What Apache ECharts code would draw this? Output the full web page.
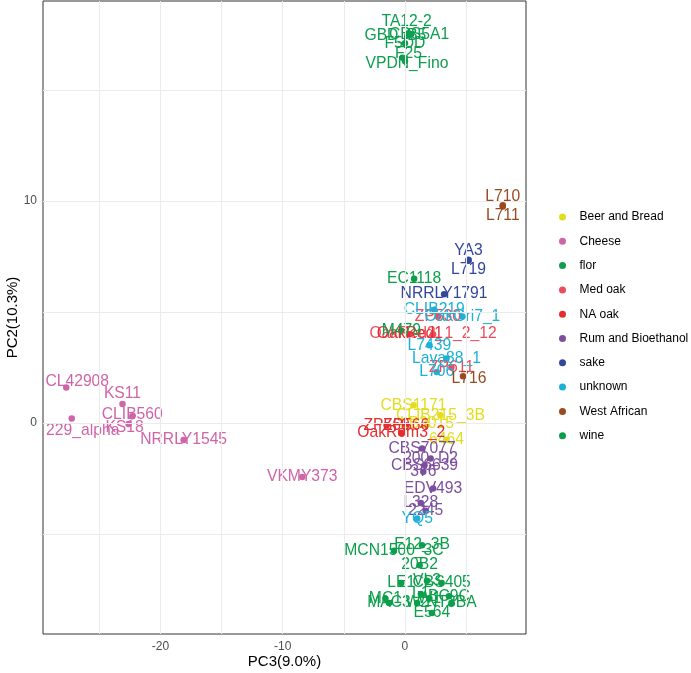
<!DOCTYPE html>
<html>
<head>
<meta charset="utf-8">
<script src="https://cdn.jsdelivr.net/npm/echarts@6/dist/echarts.min.js"></script>
<style>
  html, body { margin: 0; padding: 0; background: #fff; }
  #chart { width: 691px; height: 673px; }
</style>
</head>
<body>
<div id="chart"></div>
<script>
// PCA: PC3 (x) vs PC2 (y), one row per strain: [name, PC3, PC2]
const beerAndBread = [
  ["CBS1171", 0.7, 0.8],
  ["CLIB215_3B", 2.9, 0.35],
  ["LB2015", 1.8, -0.05],
  ["6464", 3.4, -0.75],
];
const cheese = [
  ["CL42908", -27.7, 1.6],
  ["229_alpha", -27.25, 0.2],
  ["KS11", -23.1, 0.85],
  ["CLIB560", -22.3, 0.3],
  ["KS18", -22.6, -0.05],
  ["NRRLY1545", -18.1, -0.77],
  ["VKMY373", -8.4, -2.43],
];
const flor = [
  ["TA12-2", 0.3, 17.55],
  ["GBD_B5", 0.2, 17.45],
  ["CBS5A1", 0.5, 17.5],
  ["F5DD", 0.0, 17.1],
  ["F25", -0.2, 16.45],
  ["VPDN_Fino", 0.0, 16.3],
];
const medOak = [
  ["ZP530", 2.7, 4.8],
  ["OakRed2_1_2_12", 2.3, 4.0],
  ["ZP611", 3.8, 2.5],
];
const naOak = [
  ["OakRed1", 0.4, 4.0],
  ["ZP560", -1.5, -0.1],
  ["ZP566", 0.1, -0.1],
  ["OakRom3_2", -0.3, -0.45],
];
const rumBioethanol = [
  ["CBS7077", 1.4, -1.15],
  ["200_D2", 2.1, -1.6],
  ["CBS6639", 1.6, -1.9],
  ["376", 1.5, -2.2],
  ["EDV493", 2.3, -2.95],
  ["L328", 1.3, -3.6],
  ["2245", 1.7, -3.95],
];
const sake = [
  ["NRRLY1791", 3.2, 5.8],
  ["YA3", 5.2, 7.35],
  ["L719", 5.2, 7.3],
];
const unknown = [
  ["CLIB219", 2.4, 5.1],
  ["OakGri7_1", 4.7, 4.8],
  ["L7439", 2.0, 3.5],
  ["Lava88_1", 3.4, 2.9],
  ["L706", 2.6, 2.3],
  ["YQ5", 1.0, -4.3],
];
const westAfrican = [
  ["L710", 8.0, 9.8],
  ["L711", 8.0, 9.75],
  ["L716", 4.75, 2.1],
];
const wine = [
  ["EC1118", 0.75, 6.5],
  ["M479", -0.3, 4.15],
  ["E12_3B", 1.4, -5.5],
  ["MCN1500_3C", -0.9, -5.75],
  ["20B2", 1.2, -6.4],
  ["LE1", -0.3, -7.2],
  ["VL3", 1.8, -7.1],
  ["CBS405", 3.0, -7.2],
  ["MC1", -1.6, -7.9],
  ["MAC3", -1.3, -8.1],
  ["L1", 1.3, -7.7],
  ["BC9C", 3.6, -7.8],
  ["NT3BA", 3.8, -8.1],
  ["E564", 2.2, -8.55],
  ["W1", 2.0, -7.9],
  ["W2", 1.0, -8.1],
];

const GROUP_NAMES = ["Beer and Bread", "Cheese", "flor", "Med oak", "NA oak",
  "Rum and Bioethanol", "sake", "unknown", "West African", "wine"];
const GROUP_ROWS = [beerAndBread, cheese, flor, medOak, naOak,
  rumBioethanol, sake, unknown, westAfrican, wine];

const X_LABELS = [-20, -10, 0];
const Y_LABELS = [0, 10];
const X_GRID = [-25, -20, -15, -10, -5, 0, 5];
const Y_GRID = [-5, 0, 5, 10, 15];
const X_RANGE = [-29.6, 9.9];
const Y_RANGE = [-9.5, 19.0];

const COLOR = {
  "Beer and Bread": "#e2de1f",
  "Cheese": "#cf64a9",
  "flor": "#0e9e50",
  "Med oak": "#ec4c5c",
  "NA oak": "#e52d30",
  "Rum and Bioethanol": "#7c4f9e",
  "sake": "#33479a",
  "unknown": "#1eb1d6",
  "West African": "#9b4a1f",
  "wine": "#0c9f4b",
};

// label nudges (px) where ggplot pushed overlapping labels apart
const NUDGE = {
  "CL42908": [11, -6], "229_alpha": [11, 12], "KS11": [0, -10], "CLIB560": [0, -2],
  "KS18": [-4, 4], "TA12-2": [-2, -12], "GBD_B5": [-12, 0], "CBS5A1": [8, 0],
  "F25": [6, -4], "VPDN_Fino": [2, 3], "YA3": [0, -9], "L719": [0, 9],
  "L710": [0, -9], "L711": [0, 9], "L716": [6, 2],
};

const FONT = "'Liberation Sans', Arial, Helvetica, sans-serif";
const chart = echarts.init(document.getElementById("chart"));

const plainText = color => ({
  color, textBorderWidth: 0, textBorderColor: "transparent",
  textShadowBlur: 0, textShadowColor: "transparent",
});

const series = GROUP_NAMES.map((g, i) => ({
  name: g,
  type: "scatter",
  symbolSize: 6.5,
  itemStyle: { color: COLOR[g], opacity: 1 },
  label: Object.assign({
    show: true, position: "inside", formatter: p => p.name,
    fontSize: 15.7, fontFamily: FONT,
  }, plainText(COLOR[g])),
  data: GROUP_ROWS[i].map(r => {
    const d = { name: r[0], value: [r[1], r[2]] };
    if (NUDGE[r[0]]) d.label = Object.assign({ offset: NUDGE[r[0]] }, plainText(COLOR[g]));
    return d;
  }),
}));

// panel grid lines, drawn behind the points
series.unshift({
  type: "scatter", data: [], silent: true, z: 0,
  markLine: {
    silent: true, symbol: "none", animation: false,
    label: { show: false },
    lineStyle: { color: "#ebebeb", width: 1, type: "solid" },
    data: X_GRID.map(v => ({ xAxis: v })).concat(Y_GRID.map(v => ({ yAxis: v }))),
  },
});

chart.setOption({
  animation: false,
  grid: { left: 43, right: 165, top: 1, bottom: 39, show: true,
          containLabel: false, outerBoundsMode: "none",
          borderColor: "#333", borderWidth: 1, backgroundColor: "#fff" },
  legend: {
    orient: "vertical", left: 554, top: 205,
    data: GROUP_NAMES, icon: "circle",
    itemWidth: 24, itemHeight: 7, itemGap: 10.3,
    textStyle: { fontSize: 12, fontFamily: FONT, color: "#000", lineHeight: 14 },
  },
  xAxis: {
    type: "value", min: X_RANGE[0], max: X_RANGE[1],
    name: "PC3(9.0%)", nameLocation: "middle", nameGap: 20, nameMoveOverlap: false,
    nameTextStyle: { fontSize: 15, fontFamily: FONT, color: "#000" },
    axisLine: { show: false },
    axisTick: { show: true, length: 3, lineStyle: { color: "#333" }, customValues: X_LABELS },
    axisLabel: { fontSize: 12, fontFamily: FONT, color: "#4d4d4d", margin: 7, customValues: X_LABELS },
    splitLine: { show: false },
  },
  yAxis: {
    type: "value", min: Y_RANGE[0], max: Y_RANGE[1],
    name: "PC2(10.3%)", nameLocation: "middle", nameGap: 23, nameMoveOverlap: false,
    nameTextStyle: { fontSize: 15, fontFamily: FONT, color: "#000" },
    axisLine: { show: false },
    axisTick: { show: true, length: 3, lineStyle: { color: "#333" }, customValues: Y_LABELS },
    axisLabel: { fontSize: 12, fontFamily: FONT, color: "#4d4d4d", margin: 6, customValues: Y_LABELS },
    splitLine: { show: false },
  },
  series,
});
</script>
</body>
</html>
